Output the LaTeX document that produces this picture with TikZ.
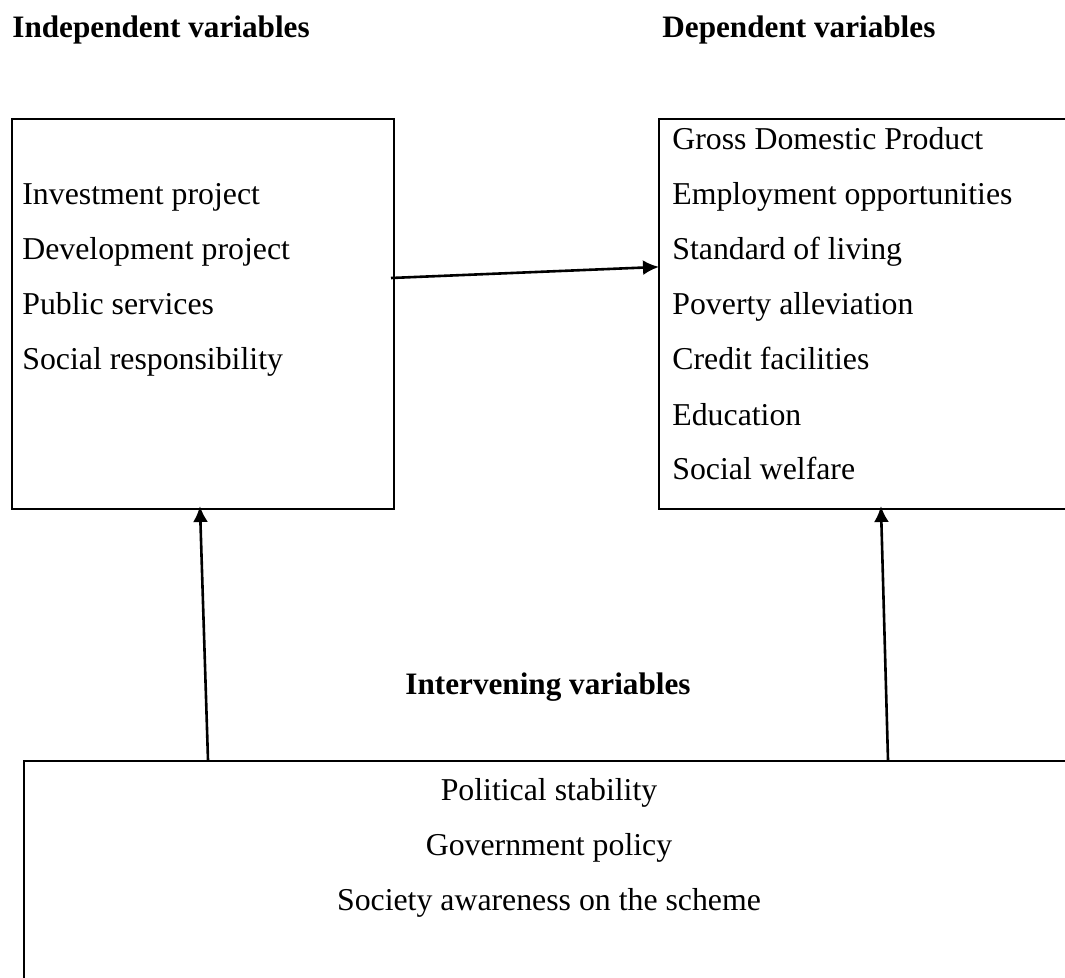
\documentclass[tikz,border=0pt]{standalone}
\usepackage{fontspec}
\setmainfont{Liberation Serif}
\usetikzlibrary{arrows.meta}
\tikzset{
  box/.style={draw, line width=1pt, inner sep=0pt, anchor=north west},
  txt/.style={anchor=base west, inner sep=0pt, font=\fontsize{15.9}{18}\selectfont},
  ctxt/.style={anchor=base, inner sep=0pt, font=\fontsize{15.9}{18}\selectfont},
  head/.style={anchor=base west, inner sep=0pt, font=\fontsize{15.6}{18}\selectfont\bfseries},
  conn/.style={line width=1.3pt, -{Latex[length=8pt,width=7.5pt]}, shorten >=-1pt}
}
\begin{document}
\begin{tikzpicture}[x=0.5pt,y=-0.5pt]
\useasboundingbox (0,0) rectangle (1065,978);
\clip (0,0) rectangle (1065,978);
% boxes
\node[box, minimum width=191pt, minimum height=195pt] (L) at (11,118) {};
\node[box, minimum width=230pt, minimum height=195pt] (R) at (658,118) {};
\node[box, minimum width=540pt, minimum height=150pt] (B) at (23,760) {};
% headings
\node[head] (hI) at (12,38) {Independent variables};
\node[head] (hD) at (662,38) {Dependent variables};
\node[head, anchor=base] (hV) at (548,694) {Intervening variables};
% left texts
\node[txt] (l1) at (22,205) {Investment project};
\node[txt] (l2) at (22,260) {Development project};
\node[txt] (l3) at (22,315) {Public services};
\node[txt] (l4) at (22,370) {Social responsibility};
% right texts
\node[txt] (r1) at (672,150) {Gross Domestic Product};
\node[txt] (r2) at (672,205) {Employment opportunities};
\node[txt] (r3) at (672,260) {Standard of living};
\node[txt] (r4) at (672,315) {Poverty alleviation};
\node[txt] (r5) at (672,370) {Credit facilities};
\node[txt] (r6) at (672,425) {Education};
\node[txt] (r7) at (672,480) {Social welfare};
% bottom texts
\node[ctxt] (b1) at (549,800) {Political stability};
\node[ctxt] (b2) at (549,855) {Government policy};
\node[ctxt] (b3) at (549,910) {Society awareness on the scheme};
% connector end points
\coordinate (a0) at (391,278);
\coordinate (a0e) at (657,267);
\coordinate (a1) at (208,760);
\coordinate (a1e) at (200,508);
\coordinate (a2) at (888,760);
\coordinate (a2e) at (881,508);
\draw[conn] (a0) -- (a0e);
\draw[conn] (a1) -- (a1e);
\draw[conn] (a2) -- (a2e);
\end{tikzpicture}
\end{document}
